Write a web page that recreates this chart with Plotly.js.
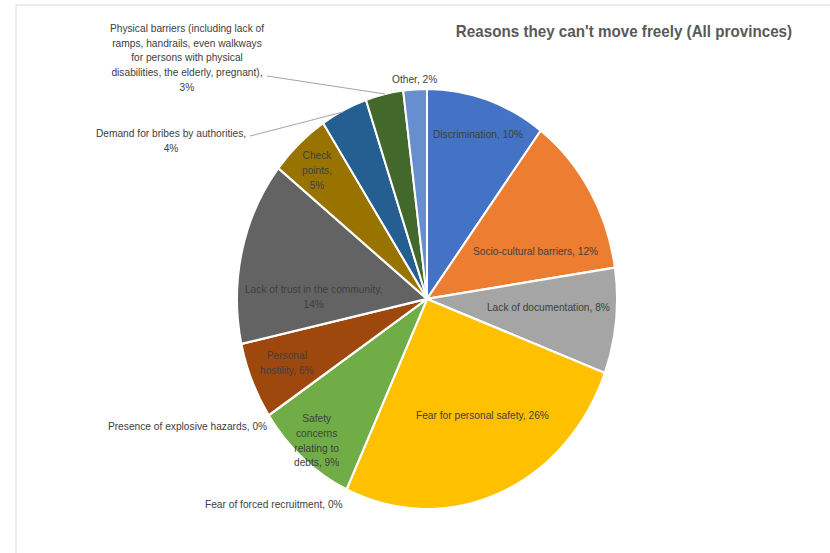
<!DOCTYPE html>
<html><head><meta charset="utf-8">
<script src="https://cdn.plot.ly/plotly-3.0.1.min.js"></script>
<style>
html,body{margin:0;padding:0;background:#fff;overflow:hidden}
#wrap{width:830px;height:553px;overflow:hidden;position:relative}
#chart{width:830px;height:500px;transform:scaleY(1.106);transform-origin:0 0}
</style>
</head><body><div id="wrap"><div id="chart"></div></div>
<script>
// ---- data ----
const categories = [
  "Discrimination",
  "Socio-cultural barriers",
  "Lack of documentation",
  "Fear for personal safety",
  "Fear of forced recruitment",
  "Safety concerns relating to debts",
  "Presence of explosive hazards",
  "Personal hostility",
  "Lack of trust in the community",
  "Check points",
  "Demand for bribes by authorities",
  "Physical barriers (including lack of ramps, handrails, even walkways for persons with physical disabilities, the elderly, pregnant)",
  "Other"
];
const values = [10.2, 12.4, 8.1, 26.2, 0, 8.7, 0, 5.9, 14.1, 5.1, 4.0, 3.2, 2.0];
// wrapped label text as it appears on the chart
const labelLines = [
  "Discrimination,",
  "Socio-cultural barriers,",
  "Lack of documentation,",
  "Fear for personal safety,",
  "Fear of forced recruitment,",
  "Safety<br>concerns<br>relating to<br>debts,",
  "Presence of explosive hazards,",
  "Personal<br>hostility,",
  "Lack of trust in the community,",
  "Check<br>points,",
  "Demand for bribes by authorities,",
  "Physical barriers (including lack of<br>ramps, handrails, even walkways<br>for persons with physical<br>disabilities, the elderly, pregnant),",
  "Other,"
];
const pctBreak = [false,false,false,false,false,false,false,false,true,true,true,true,false];

// ---- styling ----
const colors = ["#4472C4","#ED7D31","#A5A5A5","#FFC000","#5B9BD5","#70AD47","#264478",
                "#9E480E","#636363","#997300","#255E91","#43682B","#698ED0"];
// label centres in page pixels (x, y)
const labelPos = [[478,134],[535,252],[548,307],[482,415],[274,504],[316,441],[187,426],
                  [287,363],[313,296],[317,170],[171,140],[187,58],[414,79]];
// leader lines: [label index, x0,y0,x1,y1] in page pixels
const leaders = [[11,267,76,385,94],[10,250,136,343,112]];

const W = 830, H = 553;
const px = x => x / W, py = y => 1 - y / H;
const FONT = "Liberation Sans, Arial, sans-serif";

const annotations = categories.map((c, i) => ({
  text: labelLines[i] + (pctBreak[i] ? "<br>" : " ") + Math.round(values[i]) + "%",
  x: px(labelPos[i][0]), y: py(labelPos[i][1]),
  xref: "paper", yref: "paper", xanchor: "center", yanchor: "middle",
  align: "center", showarrow: false,
  font: {family: FONT, size: 10.2, color: "#404040"}
}));

const shapes = [
  {type: "rect", xref: "paper", yref: "paper", x0: px(16), x1: 1.05, y0: -0.05, y1: py(5),
   line: {color: "#d9d9d9", width: 1}, fillcolor: "rgba(0,0,0,0)", layer: "below"}
].concat(leaders.map(l => ({
  type: "line", xref: "paper", yref: "paper",
  x0: px(l[1]), y0: py(l[2]), x1: px(l[3]), y1: py(l[4]),
  line: {color: "#a6a6a6", width: 1}
})));

const trace = {
  type: "pie",
  labels: categories,
  values: values,
  sort: false,
  direction: "clockwise",
  rotation: 0,
  marker: {colors: colors, line: {color: "#ffffff", width: 2}},
  textinfo: "none",
  hoverinfo: "none",
  showlegend: false,
  domain: {x: [237/830, 617/830], y: [0.0794, 0.8394]}
};

const layout = {
  width: 830, height: 500,
  margin: {l: 0, r: 0, t: 0, b: 0},
  paper_bgcolor: "#ffffff",
  showlegend: false,
  title: {
    text: "<b>Reasons they can't move freely (All provinces)</b>",
    x: px(624), xanchor: "center", xref: "paper",
    y: py(31), yanchor: "middle", yref: "container",
    font: {family: FONT, size: 15.2, color: "#595959"}
  },
  annotations: annotations,
  shapes: shapes
};

Plotly.newPlot("chart", [trace], layout, {staticPlot: true, displayModeBar: false});
</script>
</body></html>
